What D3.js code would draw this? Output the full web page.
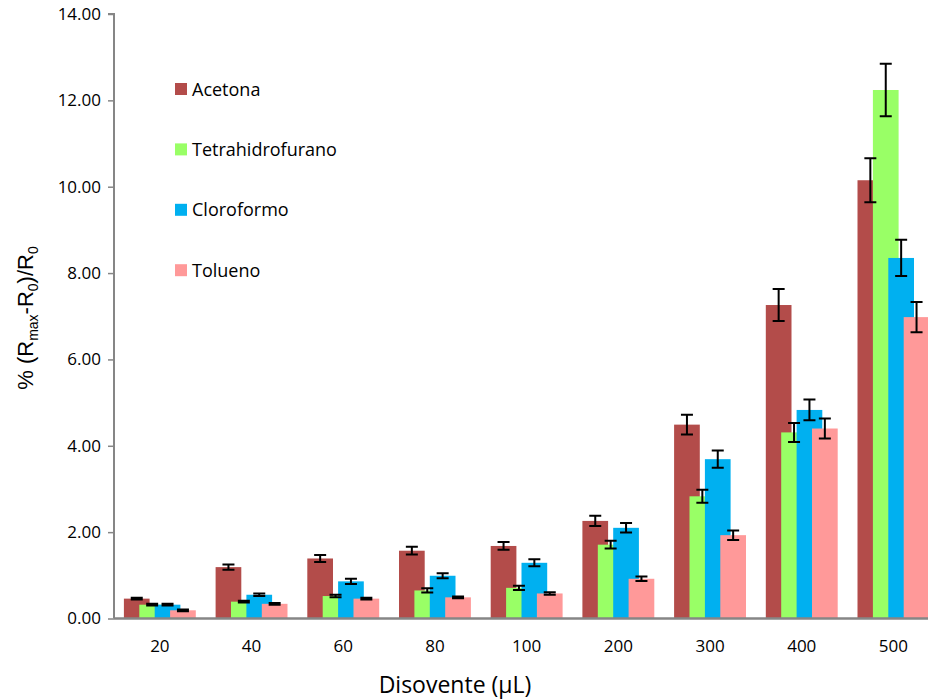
<!DOCTYPE html>
<html>
<head>
<meta charset="utf-8">
<script src="https://cdn.jsdelivr.net/npm/d3@7"></script>
<style>
  html, body { margin: 0; padding: 0; background: #fff; }
  svg { display: block; font-family: "Open Sans", sans-serif; }
</style>
</head>
<body>
<svg id="chart" width="928" height="700"></svg>
<script>
// Volumes of solvent (µL)
const categories = ["20", "40", "60", "80", "100", "200", "300", "400", "500"];
const seriesNames = ["Acetona", "Tetrahidrofurano", "Cloroformo", "Tolueno"];
const seriesColors = ["#B34C4A", "#99FF66", "#00B0F0", "#FF9999"];

// Mean response % (Rmax-R0)/R0 per solvent
const acetona          = [0.46, 1.19, 1.39, 1.57, 1.68, 2.26, 4.49, 7.26, 10.15];
const tetrahidrofurano = [0.32, 0.39, 0.52, 0.65, 0.71, 1.71, 2.83, 4.31, 12.24];
const cloroformo       = [0.32, 0.55, 0.86, 0.99, 1.29, 2.10, 3.69, 4.83, 8.35];
const tolueno          = [0.19, 0.34, 0.46, 0.49, 0.58, 0.92, 1.93, 4.40, 6.98];

// Standard deviations
const acetonaErr          = [0.02, 0.06, 0.08, 0.09, 0.09, 0.12, 0.23, 0.37, 0.51];
const tetrahidrofuranoErr = [0.02, 0.02, 0.03, 0.05, 0.05, 0.09, 0.15, 0.22, 0.61];
const cloroformoErr       = [0.02, 0.03, 0.06, 0.06, 0.08, 0.11, 0.20, 0.24, 0.42];
const toluenoErr          = [0.02, 0.02, 0.02, 0.02, 0.03, 0.05, 0.11, 0.23, 0.35];

const yTicks = [0, 2, 4, 6, 8, 10, 12, 14];

const values = [acetona, tetrahidrofurano, cloroformo, tolueno];
const errors = [acetonaErr, tetrahidrofuranoErr, cloroformoErr, toluenoErr];

const svg = d3.select("#chart");
const plotLeft = 114, plotTop = 14, plotBottom = 618.5, plotRight = 939.3;

const x0 = d3.scaleBand().domain(categories).range([plotLeft, plotRight]).padding(0);
const barW = 25.7;
const x1 = d3.scalePoint().domain(seriesNames).range([0, 46.2]);
const groupOffset = (x0.bandwidth() - (46.2 + barW)) / 2;
const y = d3.scaleLinear().domain([0, 14]).range([plotBottom, plotTop]);

const axisColor = "#868686";
const labelFont = "'Open Sans', sans-serif";

// Bars, series by series so later series overlap earlier ones
seriesNames.forEach((name, si) => {
  const data = categories.map((c, i) => ({ c, v: values[si][i], e: errors[si][i] }));
  svg.append("g")
    .selectAll("rect")
    .data(data)
    .join("rect")
    .attr("x", d => x0(d.c) + groupOffset + x1(name))
    .attr("y", d => y(d.v))
    .attr("width", barW)
    .attr("height", d => y(0) - y(d.v))
    .attr("fill", seriesColors[si]);
});

// Error bars on top
const capW = 12;
seriesNames.forEach((name, si) => {
  const data = categories.map((c, i) => ({ c, v: values[si][i], e: errors[si][i] }));
  const g = svg.append("g").attr("stroke", "#000").attr("stroke-width", 2).attr("fill", "none");
  const cx = d => x0(d.c) + groupOffset + x1(name) + barW / 2;
  g.selectAll("path")
    .data(data)
    .join("path")
    .attr("d", d => {
      const yt = y(d.v + d.e), yb = y(d.v - d.e), xc = cx(d);
      return `M${xc - capW / 2},${yt}H${xc + capW / 2}M${xc},${yt}V${yb}M${xc - capW / 2},${yb}H${xc + capW / 2}`;
    });
});

// Y axis
const yAxis = d3.axisLeft(y).tickValues(yTicks).tickFormat(d3.format(".2f")).tickSize(6).tickPadding(7);
const gy = svg.append("g").attr("transform", `translate(${plotLeft},0)`).call(yAxis);
gy.select(".domain").attr("stroke", axisColor).attr("stroke-width", 2).attr("d", `M-6,${plotTop}H0V${plotBottom}`);
gy.selectAll(".tick line").attr("stroke", axisColor).attr("stroke-width", 1.5);
gy.selectAll(".tick text").attr("fill", "#000").attr("font-size", 17).attr("font-family", labelFont);

// X axis
const xAxis = d3.axisBottom(x0).tickSize(0).tickPadding(21);
const gx = svg.append("g").attr("transform", `translate(0,${plotBottom})`).call(xAxis);
gx.select(".domain").attr("stroke", axisColor).attr("stroke-width", 2.5).attr("d", `M${plotLeft},0H${plotRight}`);
gx.selectAll(".tick text").attr("fill", "#000").attr("font-size", 17).attr("font-family", labelFont);

// Axis titles
svg.append("text")
  .attr("x", 455).attr("y", 693)
  .attr("text-anchor", "middle")
  .attr("font-family", labelFont)
  .attr("font-size", 23)
  .text("Disovente (μL)");

const yTitle = svg.append("text")
  .attr("transform", "translate(33,318) rotate(-90)")
  .attr("text-anchor", "middle")
  .attr("font-family", "'Liberation Sans', Arial, sans-serif")
  .attr("font-size", 22);
yTitle.append("tspan").text("% (R");
yTitle.append("tspan").attr("font-size", 14).attr("dy", 4.5).text("max");
yTitle.append("tspan").attr("dy", -4.5).text("-R");
yTitle.append("tspan").attr("font-size", 14).attr("dy", 4.5).text("0");
yTitle.append("tspan").attr("dy", -4.5).text(")/R");
yTitle.append("tspan").attr("font-size", 14).attr("dy", 4.5).text("0");

// Legend
const legend = svg.append("g").attr("transform", "translate(175,89)");
seriesNames.forEach((name, i) => {
  const row = legend.append("g").attr("transform", `translate(0,${i * 60.4})`);
  row.append("rect").attr("x", 0).attr("y", -6).attr("width", 12).attr("height", 12).attr("fill", seriesColors[i]);
  row.append("text").attr("x", 17).attr("y", 6.5).attr("font-size", 18).attr("font-family", labelFont).text(name);
});
</script>
</body>
</html>
